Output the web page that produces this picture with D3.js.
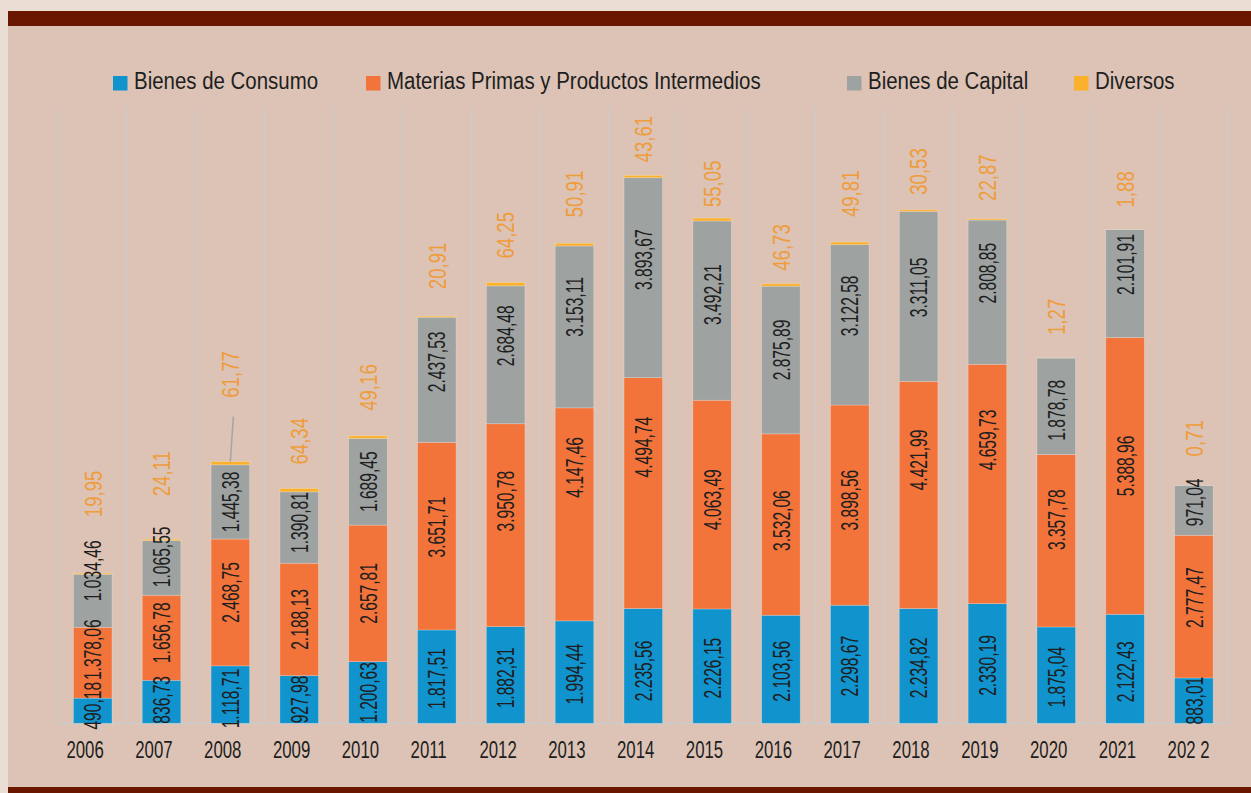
<!DOCTYPE html>
<html>
<head>
<meta charset="utf-8">
<script src="https://cdn.jsdelivr.net/npm/d3@7"></script>
<style>
  body { margin: 0; background: #eaddd4; }
  svg { display: block; }
  text { font-family: "Liberation Sans", Arial, sans-serif; }
</style>
</head>
<body>
<div class="chart-container"></div>
<script>
//! DATA
const years = ['2006', '2007', '2008', '2009', '2010', '2011', '2012', '2013', '2014',
  '2015', '2016', '2017', '2018', '2019', '2020', '2021', '202 2'];
const seriesNames = ['Bienes de Consumo', 'Materias Primas y Productos Intermedios', 'Bienes de Capital', 'Diversos'];
const consumo = [490.18, 836.73, 1118.71, 927.98, 1200.63, 1817.51, 1882.31, 1994.44, 2235.56,
  2226.15, 2103.56, 2298.67, 2234.82, 2330.19, 1875.04, 2122.43, 883.01];
const materias = [1378.06, 1656.78, 2468.75, 2188.13, 2657.81, 3651.71, 3950.78, 4147.46, 4494.74,
  4063.49, 3532.06, 3898.56, 4421.99, 4659.73, 3357.78, 5388.96, 2777.47];
const capital = [1034.46, 1065.55, 1445.38, 1390.81, 1689.45, 2437.53, 2684.48, 3153.11, 3893.67,
  3492.21, 2875.89, 3122.58, 3311.05, 2808.85, 1878.78, 2101.91, 971.04];
const diversos = [19.95, 24.11, 61.77, 64.34, 49.16, 20.91, 64.25, 50.91, 43.61,
  55.05, 46.73, 49.81, 30.53, 22.87, 1.27, 1.88, 0.71];

//! LAYOUT
const width = 1251;
const height = 793;
const plot = { left: 58.3, right: 1228.3, top: 107, bottom: 723.3 };
const colors = ['#1193cd', '#f3743b', '#9ea3a2', '#fcb12c'];
const legendX = [113, 366, 847, 1074];
// labels were hand-placed in the original: vertical nudges (px) from the segment centre
const labelNudge = [
  [-5, -2, 4, 0, 0, 2, 3, 2, 5, 2, 2, 2, 2, 2, 2, 3, 0],
  [-13, -5, -10, 0, 0, -9, -24, -47, -46, -5, -4, -5, -35, -44, -21, -10, -9],
  [-30, -11, 0, -5, 0, -18, -19, -20, -18, -16, -10, -19, -9, -19, 4, -19, -8]
];
// gap (px) between bar top and the "Diversos" label
const diversosGap = [56, 43, 64, 24, 25, 27, 24, 26, 13, 11, 13, 25, 15, 18, 23, 22, 29];
const leaderYears = ['2008'];
// the original uses a condensed face: squeeze Liberation Sans horizontally
const SX_VALUE = 0.65;
const SX_DIV = 0.76;
const SX_YEAR = 0.73;
const SX_LEGEND = 0.835;

const es = d3.formatLocale({ decimal: ',', thousands: '.', grouping: [3], currency: ['', ''] });
const fmt = es.format(',.2f');

const svg = d3.select('.chart-container')
  .append('svg')
  .attr('width', width)
  .attr('height', height);

// panel + bands
svg.append('rect').attr('x', 8).attr('y', 11).attr('width', width - 8).attr('height', height - 11).attr('fill', '#dcc3b5');
svg.append('rect').attr('x', 8).attr('y', 11).attr('width', width - 8).attr('height', 15).attr('fill', '#6b1700');
svg.append('rect').attr('x', 8).attr('y', 787).attr('width', width - 8).attr('height', 6).attr('fill', '#6b1700');

//! SCALES
const xScale = d3.scaleBand()
  .domain(years)
  .range([plot.left, plot.right])
  .paddingInner(0.44)
  .paddingOuter(0.22);

const yScale = d3.scaleLinear()
  .domain([0, 12000])
  .range([plot.bottom, plot.top]);

const step = xScale.step();
const offset = step * 0.22;
const mid = d => xScale(d.data.year) + xScale.bandwidth() / 2;

// gridlines at category boundaries
const bounds = years.map(y => xScale(y) - offset).concat([plot.right]);
svg.append('g')
  .selectAll('line')
  .data(bounds)
  .enter()
  .append('line')
  .attr('x1', d => d).attr('x2', d => d)
  .attr('y1', plot.top).attr('y2', plot.bottom)
  .attr('stroke', '#cfcac7')
  .attr('stroke-width', 1.5);

svg.append('line')
  .attr('x1', plot.left).attr('x2', plot.right)
  .attr('y1', plot.bottom).attr('y2', plot.bottom)
  .attr('stroke', '#cfcac7')
  .attr('stroke-width', 2);

//! STACK
const table = years.map((y, i) => ({
  year: y, s0: consumo[i], s1: materias[i], s2: capital[i], s3: diversos[i]
}));
const stack = d3.stack().keys(['s0', 's1', 's2', 's3'])(table);

const layers = svg.append('g')
  .selectAll('g')
  .data(stack)
  .enter()
  .append('g')
  .attr('fill', (d, i) => colors[i]);

layers.selectAll('rect')
  .data(d => d)
  .enter()
  .append('rect')
  .attr('x', d => xScale(d.data.year))
  .attr('width', xScale.bandwidth())
  .attr('y', d => yScale(d[1]))
  .attr('height', d => yScale(d[0]) - yScale(d[1]))
  .attr('stroke', 'rgba(255,255,255,0.28)')
  .attr('stroke-width', 0.8);

// value labels inside the first three segments
stack.slice(0, 3).forEach((layer, k) => {
  svg.append('g')
    .selectAll('text')
    .data(layer)
    .enter()
    .append('text')
    .attr('transform', (d, i) => {
      const cy = (yScale(d[0]) + yScale(d[1])) / 2 + labelNudge[k][i];
      return `translate(${mid(d)},${cy}) rotate(-90) scale(${SX_VALUE},1)`;
    })
    .attr('text-anchor', 'middle')
    .attr('dy', '0.36em')
    .attr('font-size', 24)
    .attr('fill', '#1e1e1e')
    .text(d => fmt(d[1] - d[0]));
});

// diversos labels above the bars
const topLayer = stack[3];
svg.append('g')
  .selectAll('text')
  .data(topLayer)
  .enter()
  .append('text')
  .attr('transform', (d, i) =>
    `translate(${mid(d)},${yScale(d[1]) - diversosGap[i]}) rotate(-90) scale(${SX_DIV},1)`)
  .attr('text-anchor', 'start')
  .attr('dy', '0.36em')
  .attr('font-size', 24.5)
  .attr('fill', '#ef9c3b')
  .text(d => fmt(d[1] - d[0]));

// leader line(s)
svg.append('g')
  .selectAll('line')
  .data(topLayer.filter(d => leaderYears.includes(d.data.year)))
  .enter()
  .append('line')
  .attr('x1', d => mid(d) + 3)
  .attr('x2', d => mid(d))
  .attr('y1', d => yScale(d[1]) - 45)
  .attr('y2', d => yScale(d[1]))
  .attr('stroke', '#a2a6a6')
  .attr('stroke-width', 1.5);

//! X AXIS LABELS
svg.append('g')
  .selectAll('text')
  .data(years)
  .enter()
  .append('text')
  .attr('transform', d => `translate(${xScale(d) - 7},758.3) scale(${SX_YEAR},1)`)
  .attr('font-size', 23)
  .attr('fill', '#1e1e1e')
  .text(d => d);

//! LEGEND
const legend = svg.append('g')
  .selectAll('g')
  .data(seriesNames)
  .enter()
  .append('g')
  .attr('transform', (d, i) => `translate(${legendX[i]},76)`);

legend.append('rect')
  .attr('width', 14.5)
  .attr('height', 14.5)
  .attr('fill', (d, i) => colors[i]);

legend.append('text')
  .attr('transform', `translate(21,13.3) scale(${SX_LEGEND},1)`)
  .attr('font-size', 24.5)
  .attr('fill', '#1e1e1e')
  .text(d => d);
</script>
</body>
</html>
